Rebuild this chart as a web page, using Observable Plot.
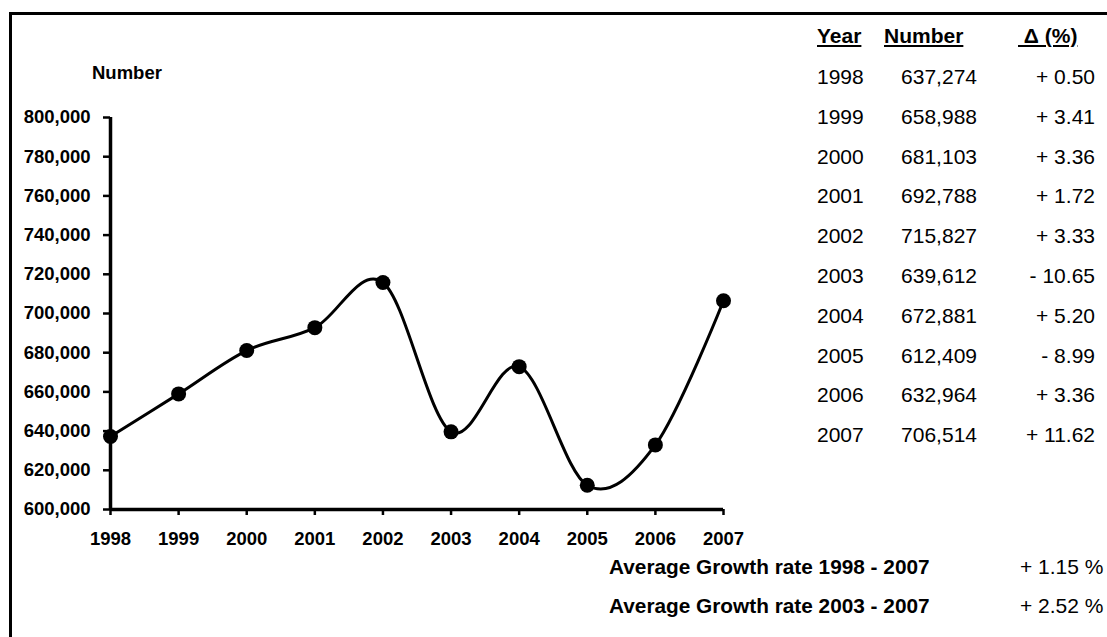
<!DOCTYPE html>
<html>
<head>
<meta charset="utf-8">
<script src="https://cdn.jsdelivr.net/npm/d3@7"></script>
<script src="https://cdn.jsdelivr.net/npm/@observablehq/plot@0.6"></script>
<style>
  html, body { margin: 0; padding: 0; background: #fff; }
  #page { position: relative; width: 1107px; height: 637px; overflow: hidden; font-family: "Liberation Sans", Arial, sans-serif; color: #000; }
  #frame { position: absolute; left: 9px; top: 12px; width: 1200px; height: 700px; border-top: 3px solid #000; border-left: 3px solid #000; }
  #chart { position: absolute; left: 0; top: 0; }
  #ylabel { position: absolute; left: 92px; top: 62px; font-size: 18.5px; font-weight: bold; line-height: 22px; }
  .hdr { position: absolute; top: 24px; font-size: 21px; font-weight: bold; text-decoration: underline; line-height: 24px; white-space: pre; }
  .cell { position: absolute; font-size: 21px; line-height: 24px; white-space: pre; }
  .avg { position: absolute; left: 609px; font-size: 20.8px; font-weight: bold; line-height: 24px; white-space: pre; }
  .avgv { position: absolute; left: 1020px; font-size: 21px; line-height: 24px; white-space: pre; }
</style>
</head>
<body>
<div id="page">
  <div id="frame"></div>
  <div id="chart"></div>
  <div id="ylabel">Number</div>
</div>
<script>
const years = [1998, 1999, 2000, 2001, 2002, 2003, 2004, 2005, 2006, 2007];
const numbers = [637274, 658988, 681103, 692788, 715827, 639612, 672881, 612409, 632964, 706514];
const deltas = ["+ 0.50", "+ 3.41", "+ 3.36", "+ 1.72", "+ 3.33", "- 10.65", "+ 5.20", "- 8.99", "+ 3.36", "+ 11.62"];
const headers = ["Year", "Number", "\u00a0\u0394 (%)"];
const avgLabels = ["Average Growth rate 1998 - 2007", "Average Growth rate 2003 - 2007"];
const avgValues = ["+ 1.15 %", "+ 2.52 %"];
const yTicks = [600000, 620000, 640000, 660000, 680000, 700000, 720000, 740000, 760000, 780000, 800000];

const data = years.map((y, i) => ({year: y, value: numbers[i]}));
const fmt = d3.format(",");

const chart = Plot.plot({
  width: 1107,
  height: 637,
  marginLeft: 110,
  marginRight: 384,
  marginTop: 117,
  marginBottom: 128,
  style: {fontFamily: "Liberation Sans, Arial, sans-serif", fontSize: "18.5px", fontWeight: "bold", background: "transparent", color: "#000"},
  x: {domain: [1998, 2007]},
  y: {domain: [600000, 800000]},
  marks: [
    Plot.axisY({ticks: yTicks, tickFormat: fmt, tickSize: 7, tickPadding: 13, strokeWidth: 2.5, label: null}),
    Plot.axisX({ticks: years, tickFormat: "d", tickSize: 6, tickPadding: 16, strokeWidth: 2.5, label: null}),
    Plot.ruleX([1998], {strokeWidth: 3.5}),
    Plot.ruleY([600000], {strokeWidth: 3.5}),
    Plot.line(data, {x: "year", y: "value", curve: "cardinal", stroke: "#000", strokeWidth: 3}),
    Plot.dot(data, {x: "year", y: "value", r: 7.5, fill: "#000", stroke: "none"})
  ]
});
document.getElementById("chart").appendChild(chart);

const page = document.getElementById("page");
const hdrLeft = [817, 884, 1018];
headers.forEach((h, i) => {
  const d = document.createElement("div");
  d.className = "hdr";
  d.style.left = hdrLeft[i] + "px";
  d.textContent = h;
  page.appendChild(d);
});
const rowTop0 = 65, rowStep = 39.8;
years.forEach((y, i) => {
  const top = rowTop0 + i * rowStep;
  const c1 = document.createElement("div");
  c1.className = "cell"; c1.style.left = "817px"; c1.style.top = top + "px";
  c1.textContent = String(y);
  const c2 = document.createElement("div");
  c2.className = "cell"; c2.style.right = (1107 - 977) + "px"; c2.style.top = top + "px";
  c2.textContent = fmt(numbers[i]);
  const c3 = document.createElement("div");
  c3.className = "cell"; c3.style.right = (1107 - 1095) + "px"; c3.style.top = top + "px";
  c3.textContent = deltas[i];
  page.append(c1, c2, c3);
});
avgLabels.forEach((t, i) => {
  const top = 555 + i * 39;
  const a = document.createElement("div");
  a.className = "avg"; a.style.top = top + "px"; a.textContent = t;
  const v = document.createElement("div");
  v.className = "avgv"; v.style.top = top + "px"; v.textContent = avgValues[i];
  page.append(a, v);
});
</script>
</body>
</html>
